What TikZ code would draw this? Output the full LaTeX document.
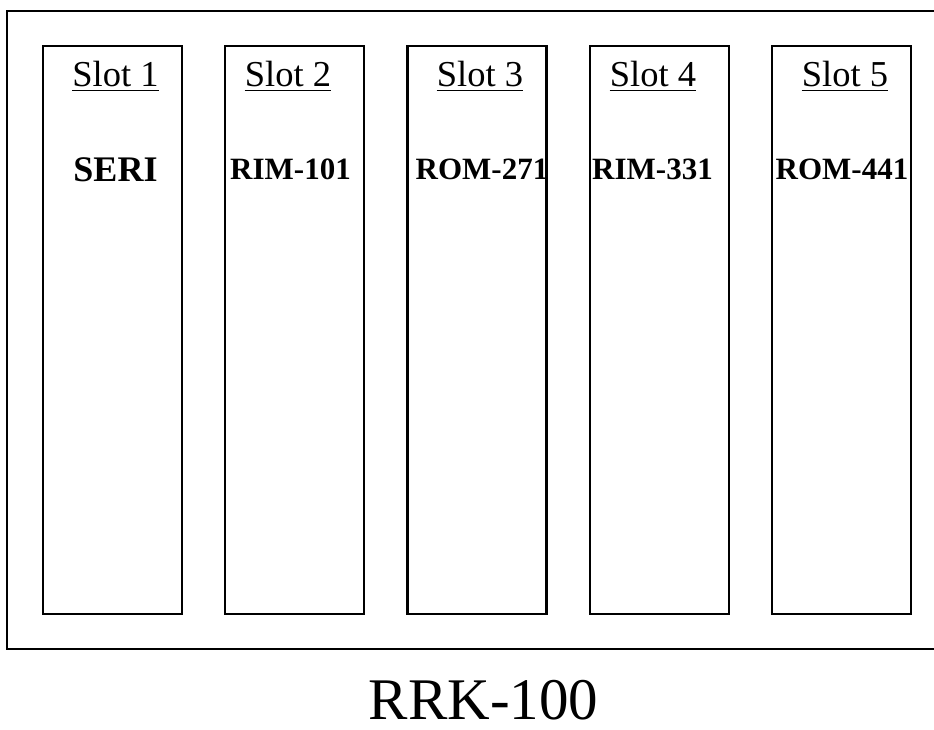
\documentclass[tikz,border=0pt]{standalone}
\usepackage{fontspec}
\setmainfont{Liberation Serif}
\begin{document}
\begin{tikzpicture}[x=1pt,y=-1pt]
	\useasboundingbox (0,0) rectangle (934,730);
	\begin{scope}
		\clip (0,0) rectangle (934,730);
		\draw[line width=2.4pt] (7,11) rectangle (950,649);
	\end{scope}

	\begin{scope}[line width=2.4pt]
		\foreach \i in {0,...,4}
			\draw ({43+182.25*\i},46) rectangle ({182+182.25*\i},614);
	\end{scope}

	\begin{scope}[every node/.style={anchor=base,inner sep=0pt,font=\fontsize{36.5}{40}\selectfont}]
		\node (slot1) at (115.5,87) {Slot 1};
		\node (slot2) at (288,87) {Slot 2};
		\node (slot3) at (480,87) {Slot 3};
		\node (slot4) at (653,87) {Slot 4};
		\node (slot5) at (845,87) {Slot 5};
	\end{scope}
	\foreach \n in {1,...,5}
		\draw[line width=1.4pt] ([yshift=-3.5pt]slot\n.base west) -- ([yshift=-3.5pt]slot\n.base east);

	\begin{scope}[every node/.style={anchor=base,inner sep=0pt,font=\fontsize{31}{36}\selectfont\bfseries}]
		\node (seri) at (115.5,182) {\fontsize{36}{40}\selectfont SERI};
		\node (rim101) at (290.5,180) {RIM-101};
		\node (rom271) at (482,180) {ROM-271};
		\node (rim331) at (652.5,180) {RIM-331};
		\node (rom441) at (842,180) {ROM-441};
	\end{scope}

	\node[anchor=base,inner sep=0pt,text depth=0pt,font=\fontsize{59}{70}\selectfont] (rrk) at (483.5,719) {RRK-100};
\end{tikzpicture}
\end{document}
